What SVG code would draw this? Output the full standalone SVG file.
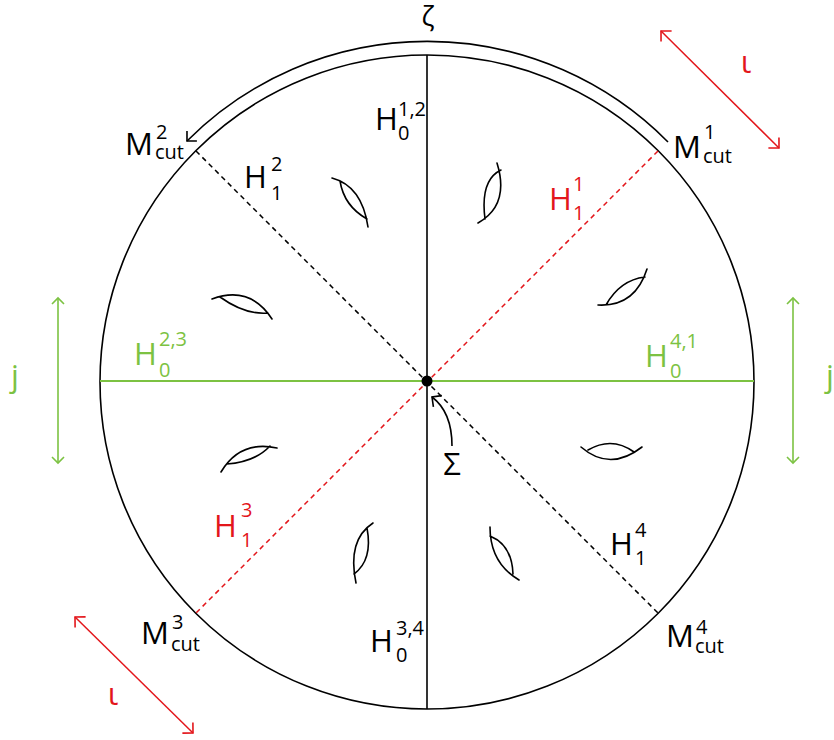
<svg xmlns="http://www.w3.org/2000/svg" width="834" height="740" viewBox="0 0 834 740">
<defs>
<style>
text{font-family:"Open Sans","Noto Sans","DejaVu Sans",sans-serif;fill:#000}
.m{font-size:31px}
.s{font-size:20px}
.g{fill:#7cc242}
.r{fill:#e3161b}
.ln{fill:none;stroke:#000;stroke-width:1.6}
.lens{fill:none;stroke:#000;stroke-width:1.6;stroke-linecap:round}
</style>
<marker id="ab" markerUnits="userSpaceOnUse" viewBox="-10 -10 12 20" refX="0" refY="0" markerWidth="12" markerHeight="20" orient="auto-start-reverse">
<path d="M-7,-7 L0,0 L-7,7" fill="none" stroke="#000" stroke-width="1.6"/>
</marker>
<marker id="ar" markerUnits="userSpaceOnUse" viewBox="-10 -10 12 20" refX="0" refY="0" markerWidth="12" markerHeight="20" orient="auto-start-reverse">
<path d="M-7.5,-7.5 L0,0 L-7.5,7.5" fill="none" stroke="#e3161b" stroke-width="1.6"/>
</marker>
<marker id="ag" markerUnits="userSpaceOnUse" viewBox="-10 -10 12 20" refX="0" refY="0" markerWidth="12" markerHeight="20" orient="auto-start-reverse">
<path d="M-6,-6 L0,0 L-6,6" fill="none" stroke="#7cc242" stroke-width="1.6"/>
</marker>
</defs>
<rect width="834" height="740" fill="#fff"/>

<g id="disk">
<circle cx="427" cy="382" r="327" class="ln" stroke-width="1.8"/>
</g>

<g id="connectors">
<line x1="100" y1="381" x2="754" y2="381" stroke="#7cc242" stroke-width="2"/>
<line x1="427" y1="55" x2="427" y2="709" class="ln"/>
<line x1="196" y1="151" x2="658" y2="613" stroke="#000" stroke-width="1.5" stroke-dasharray="5,4"/>
<line x1="658" y1="151" x2="196" y2="613" stroke="#e3161b" stroke-width="1.5" stroke-dasharray="5,4"/>
<path d="M668,142 A339,339 0 0,0 187,141" class="ln" marker-end="url(#ab)"/>
<line x1="661" y1="31" x2="779" y2="148" stroke="#e3161b" stroke-width="1.5" marker-start="url(#ar)" marker-end="url(#ar)"/>
<line x1="75" y1="617" x2="193" y2="733" stroke="#e3161b" stroke-width="1.5" marker-start="url(#ar)" marker-end="url(#ar)"/>
<line x1="58" y1="298" x2="58" y2="463" stroke="#7cc242" stroke-width="1.6" marker-start="url(#ag)" marker-end="url(#ag)"/>
<line x1="793" y1="298" x2="793" y2="463" stroke="#7cc242" stroke-width="1.6" marker-start="url(#ag)" marker-end="url(#ag)"/>
<path d="M452,446 Q452,412 432,397" class="ln" marker-end="url(#ab)"/>
</g>

<g id="sigma-point">
<circle cx="427" cy="381" r="5.5" fill="#000"/>
<text class="m" x="452" y="475" text-anchor="middle">Σ</text>
</g>

<g id="lenses">
<path class="lens" d="M332,178 Q362,186 368,227 M340,181 Q344,206 367,219"/>
<path class="lens" d="M497,163 Q510,205 478,223 M485,219 Q480,180 501,170"/>
<path class="lens" d="M598,305 Q635,307 647,269 M606,305 Q620,280 645,277"/>
<path class="lens" d="M212,299 Q250,285 272,319 M220,297 Q245,315 268,313"/>
<path class="lens" d="M221,472 Q240,440 277,448 M227,464 Q255,462 270,446"/>
<path class="lens" d="M373,523 Q347,540 356,583 M367,528 Q373,560 354,574"/>
<path class="lens" d="M490,527 Q490,563 519,580 M490,536 Q512,545 513,574"/>
<path class="lens" d="M581,447 Q610,472 642,447 M588,450 Q612,436 634,452"/>
</g>

<g id="zeta"><text x="428" y="26" text-anchor="middle" style="font-size:27px">ζ</text></g>

<g id="H0-12">
<text class="m" x="375" y="130">H</text><text class="s" x="398" y="116">1,2</text><text class="s" x="398" y="140">0</text>
</g>
<g id="Mcut-2">
<text class="m" x="125" y="155">M</text><text class="s" x="156" y="139">2</text><text class="s" x="155" y="159">cut</text>
</g>
<g id="Mcut-1">
<text class="m" x="673" y="158">M</text><text class="s" x="704" y="139">1</text><text class="s" x="703" y="163">cut</text>
</g>
<g id="H1-2">
<text class="m" x="244" y="188">H</text><text class="s" x="271" y="171">2</text><text class="s" x="271" y="200">1</text>
</g>
<g id="H1-1">
<text class="m r" x="549" y="210">H</text><text class="s r" x="573" y="191">1</text><text class="s r" x="573" y="220">1</text>
</g>
<g id="H0-23">
<text class="m g" x="134" y="365">H</text><text class="s g" x="159" y="346">2,3</text><text class="s g" x="159" y="377">0</text>
</g>
<g id="H0-41">
<text class="m g" x="645" y="367">H</text><text class="s g" x="670" y="348">4,1</text><text class="s g" x="670" y="378">0</text>
</g>
<g id="H1-3">
<text class="m r" x="214" y="537">H</text><text class="s r" x="241" y="517">3</text><text class="s r" x="241" y="547">1</text>
</g>
<g id="H1-4">
<text class="m" x="610" y="555">H</text><text class="s" x="635" y="537">4</text><text class="s" x="635" y="565">1</text>
</g>
<g id="H0-34">
<text class="m" x="370" y="652">H</text><text class="s" x="396" y="635">3,4</text><text class="s" x="396" y="662">0</text>
</g>
<g id="Mcut-3">
<text class="m" x="141" y="644">M</text><text class="s" x="172" y="629">3</text><text class="s" x="171" y="651">cut</text>
</g>
<g id="Mcut-4">
<text class="m" x="666" y="647">M</text><text class="s" x="696" y="634">4</text><text class="s" x="695" y="653">cut</text>
</g>
<g id="iota-top"><text class="m r" x="746" y="73" text-anchor="middle">ι</text></g>
<g id="iota-bottom"><text class="m r" x="113" y="705" text-anchor="middle">ι</text></g>
<g id="j-left"><text class="m g" x="15" y="387" text-anchor="middle">j</text></g>
<g id="j-right"><text class="m g" x="830" y="387" text-anchor="middle">j</text></g>
</svg>
